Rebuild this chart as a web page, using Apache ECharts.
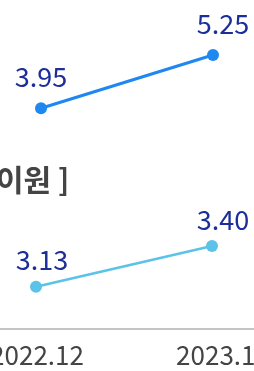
<!DOCTYPE html>
<html>
<head>
<meta charset="utf-8">
<script src="https://cdn.jsdelivr.net/npm/echarts@6/dist/echarts.min.js"></script>
<style>
html,body{margin:0;padding:0;background:#fff;}
#c{width:254px;height:371px;}
</style>
</head>
<body>
<div id="c"></div>
<script>
var categories = ['2022.12', '2023.12'];
var topValues = [3.95, 5.25];
var bottomValues = [3.13, 3.40];
var unitText = '이원 ]';

var FONT = '"Noto Sans CJK KR", "Noto Sans", sans-serif';

function pts(vals, offs) {
  return vals.map(function (v, i) {
    return { value: [i, v], label: { offset: offs[i] } };
  });
}

var chart = echarts.init(document.getElementById('c'));
chart.setOption({
  animation: false,
  grid: [
    { left: 0, right: 0, top: 24.25, height: 123, outerBoundsMode: 'none', containLabel: false },
    { left: 0, right: 0, top: 230.9, height: 98, outerBoundsMode: 'none', containLabel: false }
  ],
  xAxis: [
    { type: 'value', gridIndex: 0, min: -0.2384, max: 1.2384, show: false },
    {
      type: 'value', gridIndex: 1, min: -0.2045, max: 1.2386,
      splitLine: { show: false },
      axisLine: { show: true, onZero: false, lineStyle: { color: '#c4c4c4', width: 2 } },
      axisTick: { show: false },
      axisLabel: {
        show: true,
        customValues: [0, 1],
        hideOverlap: false,
        color: '#444', fontSize: 26, fontFamily: FONT, margin: 13,
        formatter: function (v) {
          var i = Math.round(v);
          return i === 0 ? '{a|' + categories[0] + '}' : '{b|' + categories[1] + '}';
        },
        rich: {
          a: { color: '#444', fontSize: 26, fontFamily: FONT, padding: [0, 0, 0, 2] },
          b: { color: '#444', fontSize: 26, fontFamily: FONT, padding: [0, 0, 0, 22] }
        }
      }
    }
  ],
  yAxis: [
    { type: 'value', gridIndex: 0, min: 3, max: 6, show: false },
    { type: 'value', gridIndex: 1, min: 2.85, max: 3.5, show: false }
  ],
  graphic: [
    {
      type: 'text', left: -4, top: 165,
      style: { text: unitText, fill: '#444', font: 'bold 30px "Noto Sans CJK KR", sans-serif' }
    }
  ],
  series: [
    {
      type: 'line', xAxisIndex: 0, yAxisIndex: 0,
      data: pts(topValues, [[0, 0], [10, 0]]),
      symbol: 'circle', symbolSize: 12,
      lineStyle: { color: '#1e88f0', width: 3 },
      itemStyle: { color: '#1e88f0' },
      label: { show: true, position: 'top', distance: 12, color: '#1c2e9a', fontSize: 27, fontFamily: FONT,
        formatter: function (p) { return p.value[1].toFixed(2); } }
    },
    {
      type: 'line', xAxisIndex: 1, yAxisIndex: 1,
      data: pts(bottomValues, [[6, 0], [11, 0]]),
      symbol: 'circle', symbolSize: 12,
      lineStyle: { color: '#5bc2e8', width: 2.5 },
      itemStyle: { color: '#5bc2e8' },
      label: { show: true, position: 'top', distance: 7, color: '#1c2e9a', fontSize: 27, fontFamily: FONT,
        formatter: function (p) { return p.value[1].toFixed(2); } }
    }
  ]
});
</script>
</body>
</html>
